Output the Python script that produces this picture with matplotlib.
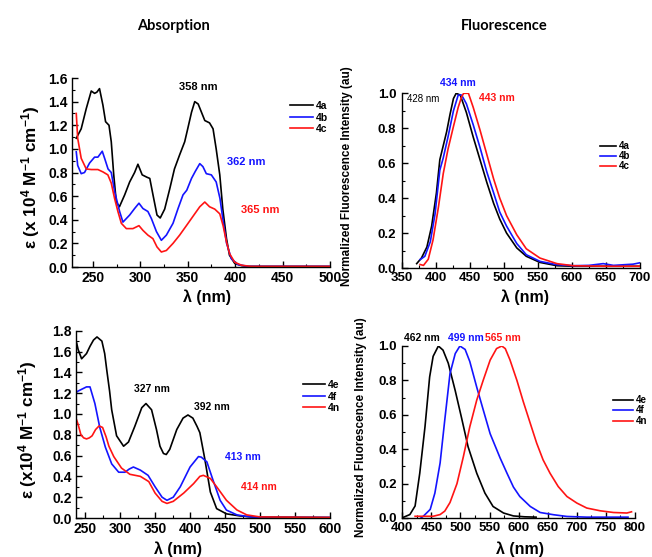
import matplotlib
matplotlib.use("Agg")
import matplotlib.pyplot as plt
from matplotlib.ticker import MultipleLocator

# ---- data ----
# absorption, top: 4a / 4b / 4c
abs_4a_nm = [232.5, 237.7, 243, 248.3, 251.8, 254.2, 257, 260.6, 263.4, 267, 269.4, 272, 274.7, 278, 283.5,
             288.8, 294, 297.5, 302, 307, 310, 313.4, 317.6, 321, 325.7, 331, 336, 341.5, 346.8, 350, 354,
             357.4, 361, 364.5, 368, 373, 376.7, 380, 383.8, 387, 390.9, 394, 399.6, 406.7, 414, 500]
abs_4a_eps = [1.09, 1.17, 1.34, 1.49, 1.47, 1.48, 1.51, 1.37, 1.23, 1.20, 1.06, 0.78, 0.55, 0.51, 0.61, 0.72,
              0.80, 0.87, 0.78, 0.76, 0.75, 0.61, 0.44, 0.415, 0.49, 0.66, 0.83, 0.95, 1.06, 1.17, 1.31, 1.40,
              1.38, 1.31, 1.24, 1.22, 1.17, 1.00, 0.78, 0.49, 0.24, 0.10, 0.03, 0.012, 0.005, 0.005]
abs_4b_nm = [232.5, 234, 237.7, 241.2, 246.5, 251.8, 255.3, 259.9, 262.4, 266, 269.4, 272.9, 278.2, 281.7,
             288.8, 294, 298.6, 302.8, 308, 311.7, 317, 322.2, 327.5, 334.5, 339.8, 345, 349, 354, 358, 362.7,
             366, 369.6, 374.9, 380, 384, 387.5, 391, 396, 403, 414, 500]
abs_4b_eps = [0.975, 0.86, 0.79, 0.80, 0.88, 0.93, 0.93, 0.98, 0.92, 0.83, 0.80, 0.64, 0.47, 0.38, 0.44, 0.495,
              0.54, 0.495, 0.47, 0.41, 0.30, 0.226, 0.27, 0.37, 0.495, 0.61, 0.65, 0.75, 0.81, 0.875, 0.85,
              0.79, 0.78, 0.72, 0.58, 0.38, 0.20, 0.07, 0.02, 0.005, 0.005]
abs_4c_nm = [232.5, 234, 237.7, 243, 248.3, 255.3, 260.6, 265.8, 269.4, 272.9, 276.4, 280, 285.3, 292.2,
             298.6, 302.8, 308, 313.3, 317.6, 322.2, 327.5, 334.5, 341.5, 348.6, 357.4, 362.7, 368, 373,
             378.5, 383.8, 387.3, 390.9, 394.3, 399.6, 406.7, 417, 500]
abs_4c_eps = [1.30, 1.09, 0.92, 0.83, 0.825, 0.825, 0.805, 0.78, 0.71, 0.58, 0.47, 0.37, 0.325, 0.325, 0.35,
              0.31, 0.27, 0.24, 0.17, 0.127, 0.14, 0.20, 0.27, 0.35, 0.45, 0.51, 0.55, 0.51, 0.49, 0.45, 0.35,
              0.21, 0.11, 0.04, 0.015, 0.005, 0.005]

# fluorescence, top
fl_4a_nm = [372, 379, 387, 394, 401, 406, 411, 416, 421, 426, 430, 436, 445, 455, 465, 475, 485, 494, 504,
            519, 533, 553, 578, 602, 650, 700]
fl_4a_int = [0.025, 0.057, 0.12, 0.24, 0.43, 0.62, 0.70, 0.78, 0.88, 0.97, 1.0, 0.99, 0.89, 0.75, 0.62, 0.49,
             0.37, 0.28, 0.20, 0.115, 0.067, 0.032, 0.013, 0.01, 0.01, 0.01]
fl_4b_nm = [377, 384, 392, 399, 406, 411, 418, 426, 433, 438, 445, 455, 465, 475, 485, 494, 504, 519, 533,
            553, 578, 602, 625, 646, 661, 690, 700]
fl_4b_int = [0.048, 0.067, 0.15, 0.31, 0.56, 0.63, 0.75, 0.90, 0.99, 0.99, 0.94, 0.82, 0.69, 0.55, 0.43, 0.32,
             0.24, 0.14, 0.076, 0.038, 0.019, 0.013, 0.015, 0.025, 0.015, 0.022, 0.03]
fl_4c_nm = [377, 382, 389, 396, 404, 411, 418, 426, 433, 438, 441, 448, 455, 465, 475, 485, 494, 504, 519,
            533, 553, 578, 602, 650, 700]
fl_4c_int = [0.02, 0.015, 0.05, 0.16, 0.35, 0.54, 0.68, 0.81, 0.92, 0.98, 1.0, 1.0, 0.92, 0.79, 0.65, 0.51,
             0.40, 0.30, 0.19, 0.11, 0.057, 0.025, 0.013, 0.01, 0.01]

# absorption, bottom: 4e / 4f / 4n
abs_4e_nm = [238, 240, 245, 252, 257, 262, 267, 274, 278, 281, 285, 288, 295, 305, 312, 321, 331, 337, 345,
             352, 357, 362, 366, 371, 381, 390, 397, 404, 410, 414, 421, 429, 438, 452, 471, 490, 600]
abs_4e_eps = [1.68, 1.62, 1.53, 1.58, 1.65, 1.71, 1.74, 1.70, 1.58, 1.42, 1.22, 1.04, 0.79, 0.69, 0.73, 0.88,
              1.06, 1.10, 1.04, 0.85, 0.69, 0.62, 0.61, 0.66, 0.85, 0.96, 0.99, 0.96, 0.88, 0.82, 0.57, 0.25,
              0.09, 0.04, 0.02, 0.01, 0.005]
abs_4f_nm = [238, 240, 246, 252, 257, 264, 271, 279, 288, 298, 307, 313, 319, 329, 340, 350, 360, 367, 376,
             386, 400, 412, 416, 424, 433, 443, 452, 467, 486, 510, 600]
abs_4f_eps = [1.21, 1.22, 1.24, 1.26, 1.26, 1.10, 0.87, 0.68, 0.52, 0.44, 0.44, 0.47, 0.49, 0.46, 0.41, 0.30,
              0.20, 0.17, 0.20, 0.30, 0.49, 0.59, 0.585, 0.54, 0.36, 0.17, 0.076, 0.03, 0.01, 0.005, 0.005]
abs_4n_nm = [238, 240, 244, 248, 252, 256, 260, 265, 270, 275, 280, 284, 291, 302, 314, 329, 341, 350, 360,
             367, 376, 391, 405, 414, 419, 429, 438, 452, 467, 481, 500, 600]
abs_4n_eps = [0.94, 0.90, 0.80, 0.77, 0.76, 0.77, 0.79, 0.85, 0.885, 0.87, 0.78, 0.69, 0.59, 0.48, 0.42, 0.40,
              0.35, 0.24, 0.16, 0.14, 0.16, 0.24, 0.33, 0.40, 0.41, 0.38, 0.30, 0.17, 0.077, 0.03, 0.01, 0.005]

# fluorescence, bottom
fl_4e_nm = [399, 413, 422, 430, 439, 447, 453, 462, 470, 479, 491, 502, 513, 528, 542, 556, 574, 591, 610, 630]
fl_4e_int = [0.0, 0.02, 0.07, 0.26, 0.53, 0.82, 0.94, 1.0, 0.976, 0.90, 0.74, 0.58, 0.415, 0.26, 0.145,
             0.067, 0.029, 0.012, 0.007, 0.005]
fl_4f_nm = [432, 436, 448, 456, 465, 473, 482, 491, 499, 508, 516, 528, 539, 551, 568, 580, 591, 602, 620,
            637, 660, 683, 717, 788]
fl_4f_int = [0.0, 0.01, 0.05, 0.145, 0.32, 0.57, 0.84, 0.956, 1.0, 0.98, 0.91, 0.76, 0.63, 0.49, 0.35, 0.26,
             0.18, 0.125, 0.067, 0.032, 0.019, 0.009, 0.005, 0.005]
fl_4n_nm = [422, 453, 465, 473, 482, 494, 505, 516, 528, 539, 551, 562, 571, 577, 585, 597, 608, 620, 631,
            642, 654, 668, 683, 700, 717, 740, 763, 786, 794]
fl_4n_int = [0.01, 0.01, 0.02, 0.04, 0.09, 0.20, 0.357, 0.53, 0.686, 0.80, 0.918, 0.985, 1.0, 0.985, 0.92,
             0.80, 0.676, 0.55, 0.435, 0.338, 0.26, 0.183, 0.125, 0.087, 0.058, 0.042, 0.032, 0.029, 0.036]

W, H = 652, 557
BLACK, BLUE, RED = "black", "#1414ff", "#ff1414"

plt.rcParams['font.family'] = ['Liberation Sans', 'DejaVu Sans']
plt.rcParams['font.weight'] = 'bold'
plt.rcParams['mathtext.fontset'] = 'custom'
plt.rcParams['mathtext.rm'] = 'Liberation Sans:bold'
plt.rcParams['mathtext.bf'] = 'Liberation Sans:bold'
plt.rcParams['mathtext.default'] = 'bf'

fig = plt.figure(figsize=(W / 100, H / 100), dpi=100)


def px(x, y):
    # pixel position -> figure fraction
    return x / W, 1 - y / H


def make_axes(x0, x1, ytop, ybot, xlim, ylim, xmaj, ymaj, tsize):
    ax = fig.add_axes([x0 / W, 1 - ybot / H, (x1 - x0) / W, (ybot - ytop) / H])
    ax.set_xlim(*xlim)
    ax.set_ylim(*ylim)
    for s in ['top', 'right']:
        ax.spines[s].set_visible(False)
    for s in ['left', 'bottom']:
        ax.spines[s].set_linewidth(1.0)
    ax.xaxis.set_major_locator(MultipleLocator(xmaj))
    ax.xaxis.set_minor_locator(MultipleLocator(xmaj / 2))
    ax.yaxis.set_major_locator(MultipleLocator(ymaj))
    ax.yaxis.set_minor_locator(MultipleLocator(ymaj / 2))
    ax.tick_params(which='major', direction='in', length=4, width=1, labelsize=tsize, pad=3)
    ax.tick_params(which='minor', direction='in', length=2, width=0.8)
    ax.yaxis.set_major_formatter(plt.FormatStrFormatter('%.1f'))
    for lab in ax.get_xticklabels() + ax.get_yticklabels():
        lab.set_fontweight('bold')
    return ax


def add_legend(ax, x, y, hlen, spacing, size):
    fx, fy = px(x, y)
    ax.legend(loc='upper left', bbox_to_anchor=(fx, fy), bbox_transform=fig.transFigure,
              frameon=False, borderpad=0, borderaxespad=0, handlelength=hlen,
              handletextpad=0.3, labelspacing=spacing, prop={'size': size, 'weight': 'bold'})


lw = 1.2

# --- top left: absorption 4a-4c ---
ax1 = make_axes(72, 330, 78, 267, (228, 500), (0, 1.6), 50, 0.2, 10)
ax1.plot(abs_4a_nm, abs_4a_eps, color=BLACK, lw=lw, label='4a')
ax1.plot(abs_4b_nm, abs_4b_eps, color=BLUE, lw=lw, label='4b')
ax1.plot(abs_4c_nm, abs_4c_eps, color=RED, lw=lw, label='4c')
ax1.text(361, 1.52, '358 nm', color=BLACK, fontsize=8, ha='center', va='center')
ax1.text(412, 0.89, '362 nm', color=BLUE, fontsize=8, ha='center', va='center')
ax1.text(426, 0.48, '365 nm', color=RED, fontsize=8, ha='center', va='center')
add_legend(ax1, 290, 101, 2.2, 0.15, 7.5)

# --- top right: fluorescence 4a-4c ---
ax2 = make_axes(401.7, 640, 93.3, 268, (350, 700), (0, 1.0), 50, 0.2, 9.5)
ax2.tick_params(axis='y', pad=4)
ax2.plot(fl_4a_nm, fl_4a_int, color=BLACK, lw=lw, label='4a')
ax2.plot(fl_4b_nm, fl_4b_int, color=BLUE, lw=lw, label='4b')
ax2.plot(fl_4c_nm, fl_4c_int, color=RED, lw=lw, label='4c')
ax2.text(382, 0.968, '428 nm', color=BLACK, fontsize=7, ha='center', va='center', fontweight='normal')
ax2.text(433, 1.059, '434 nm', color=BLUE, fontsize=7.5, ha='center', va='center', clip_on=False)
ax2.text(490, 0.973, '443 nm', color=RED, fontsize=7.5, ha='center', va='center')
add_legend(ax2, 600, 141, 1.6, 0.0, 7)

# --- bottom left: absorption 4e, 4f, 4n ---
ax3 = make_axes(76, 330, 330.7, 518, (237, 600), (0, 1.8), 50, 0.2, 10)
ax3.plot(abs_4e_nm, abs_4e_eps, color=BLACK, lw=lw, label='4e')
ax3.plot(abs_4f_nm, abs_4f_eps, color=BLUE, lw=lw, label='4f')
ax3.plot(abs_4n_nm, abs_4n_eps, color=RED, lw=lw, label='4n')
ax3.text(345.6, 1.24, '327 nm', color=BLACK, fontsize=7.5, ha='center', va='center')
ax3.text(431, 1.067, '392 nm', color=BLACK, fontsize=7.5, ha='center', va='center')
ax3.text(475.6, 0.586, '413 nm', color=BLUE, fontsize=7.5, ha='center', va='center')
ax3.text(498.6, 0.298, '414 nm', color=RED, fontsize=7.5, ha='center', va='center')
add_legend(ax3, 303, 380, 2.1, 0.15, 7.5)

# --- bottom right: fluorescence 4e, 4f, 4n ---
ax4 = make_axes(402.3, 635, 346, 518, (400, 800), (0, 1.0), 50, 0.2, 9.5)
ax4.tick_params(axis='y', pad=4)
ax4.plot(fl_4e_nm, fl_4e_int, color=BLACK, lw=lw, label='4e')
ax4.plot(fl_4f_nm, fl_4f_int, color=BLUE, lw=lw, label='4f')
ax4.plot(fl_4n_nm, fl_4n_int, color=RED, lw=lw, label='4n')
ax4.text(433, 1.047, '462 nm', color=BLACK, fontsize=7.5, ha='center', va='center', clip_on=False)
ax4.text(509.5, 1.047, '499 nm', color=BLUE, fontsize=7.5, ha='center', va='center', clip_on=False)
ax4.text(573.6, 1.047, '565 nm', color=RED, fontsize=7.5, ha='center', va='center', clip_on=False)
add_legend(ax4, 613, 395, 2.1, 0.05, 7)

# axis labels and column titles
eps_top = r'ε (x 10$^{4}$ M$^{-1}$ cm$^{-1}$)'
eps_bot = r'ε (x10$^{4}$ M$^{-1}$ cm$^{-1}$)'
fl_lab = 'Normalized Fluorescence Intensity (au)'
fig.text(*px(31, 177), eps_top, rotation=90, ha='center', va='center', fontsize=12.3)
fig.text(*px(28, 430), eps_bot, rotation=90, ha='center', va='center', fontsize=12.3)
fig.text(*px(347, 176), fl_lab, rotation=90, ha='center', va='center', fontsize=8.5)
fig.text(*px(361, 427), fl_lab, rotation=90, ha='center', va='center', fontsize=8.5)
for xx, yy in [(207, 297), (525, 297), (178, 549), (520, 549)]:
    fig.text(*px(xx, yy), 'λ (nm)', ha='center', va='center', fontsize=11.5)

fig.text(*px(173, 26), 'Absorption', ha='center', va='center', fontsize=10.5, family='Lato', fontweight='bold')
fig.text(*px(504, 26), 'Fluorescence', ha='center', va='center', fontsize=10.5, family='Lato', fontweight='bold')

fig.savefig('out.png', dpi=100)
